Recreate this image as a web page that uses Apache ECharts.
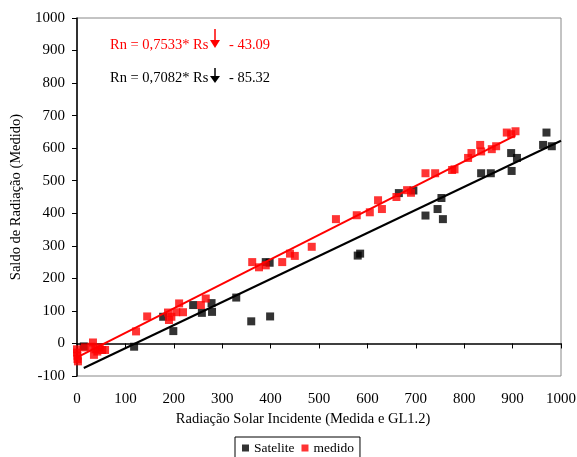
<!DOCTYPE html>
<html>
<head>
<meta charset="utf-8">
<script src="https://cdn.jsdelivr.net/npm/echarts@6/dist/echarts.min.js"></script>
<style>
  html, body { margin: 0; padding: 0; background: #fff; }
  #main { width: 577px; height: 457px; }
</style>
</head>
<body>
<div id="main"></div>
<script>
// pontos: [Rs, Rn]
const satelite = [
  [14, -9], [118, -10], [178, 82], [199, 38], [240, 118], [258, 94],
  [278, 124], [279, 97], [329, 141], [360, 68], [399, 83], [390, 250],
  [398, 248], [580, 270], [585, 276], [665, 462], [695, 470], [720, 393],
  [745, 413], [753, 447], [756, 382], [835, 523], [855, 523], [897, 585],
  [898, 530], [909, 570], [963, 610], [970, 648], [981, 606]
];
const medido = [
  [0, -18], [0, -28], [1, -38], [1, -48], [2, -55], [16, -12], [30, -10],
  [33, 3], [35, -35], [38, -18], [42, -25], [47, -12], [52, -20], [58, -20],
  [122, 37], [145, 83], [188, 95], [190, 72], [195, 82], [205, 96], [211, 123],
  [219, 96], [256, 118], [266, 138], [362, 250], [376, 234], [390, 240],
  [424, 250], [440, 276], [450, 269], [485, 297], [535, 382], [578, 394],
  [605, 403], [622, 440], [630, 413], [660, 450], [682, 471], [690, 463],
  [720, 523], [740, 523], [775, 533], [780, 535], [808, 570], [815, 585],
  [833, 610], [835, 590], [857, 597], [866, 606], [888, 648], [897, 643],
  [906, 652]
];
// regressoes: [inclinacao, intercepto, x inicial, x final]
const regMedido = [0.7533, -43.09, 0, 906];
const regSatelite = [0.7082, -85.32, 14, 1000];

function linha(r) {
  return [[r[2], r[0] * r[2] + r[1]], [r[3], r[0] * r[3] + r[1]]];
}

const serif = 'Liberation Serif';
const chart = echarts.init(document.getElementById('main'));

const option = {
  backgroundColor: '#fff',
  animation: false,
  textStyle: { fontFamily: serif, color: '#000' },
  grid: {
    left: 77, right: 16, top: 18, bottom: 81,
    containLabel: false, outerBoundsMode: 'none',
    show: true, borderColor: '#888', borderWidth: 1
  },
  legend: {
    data: ['Satelite', 'medido'],
    top: 437,
    left: 235,
    itemWidth: 7, itemHeight: 7, itemGap: 7,
    icon: 'rect',
    borderColor: '#000', borderWidth: 1, borderRadius: 0,
    padding: [4, 6, 6, 7],
    textStyle: { fontFamily: serif, fontSize: 13.5, color: '#000' }
  },
  xAxis: {
    type: 'value', min: 0, max: 1000, interval: 100,
    name: 'Radiação Solar Incidente (Medida e GL1.2)',
    nameLocation: 'middle', nameGap: 32,
    nameTextStyle: { fontFamily: serif, fontSize: 14.5, color: '#000', padding: [0, 32, 0, 0] },
    axisLine: { onZero: true, lineStyle: { color: '#000', width: 1.5 } },
    axisTick: { show: true, inside: false, length: 5, lineStyle: { color: '#000' } },
    axisLabel: { fontFamily: serif, fontSize: 15, color: '#000', margin: 16,
      formatter: v => String(v) },
    splitLine: { show: false }
  },
  yAxis: {
    type: 'value', min: -100, max: 1000, interval: 100,
    name: 'Saldo de Radiação (Medido)',
    nameLocation: 'middle', nameGap: 51, nameRotate: 90,
    nameTextStyle: { fontFamily: serif, fontSize: 14.5, color: '#000' },
    axisLine: { show: true, lineStyle: { color: '#000', width: 1.5 } },
    axisTick: { show: true, length: 5, lineStyle: { color: '#000' } },
    axisLabel: { fontFamily: serif, fontSize: 15, color: '#000', margin: 12,
      formatter: v => String(v) },
    splitLine: { show: false }
  },
  series: [
    {
      name: 'Satelite', type: 'scatter', data: satelite,
      symbol: 'rect', symbolSize: 8,
      itemStyle: { color: '#000' }
    },
    {
      name: 'medido', type: 'scatter', data: medido,
      symbol: 'rect', symbolSize: 8,
      itemStyle: { color: '#ff0000' }
    },
    {
      name: 'regSat', type: 'line', data: linha(regSatelite),
      symbol: 'none', lineStyle: { color: '#000', width: 2 }, z: 3
    },
    {
      name: 'regMed', type: 'line', data: linha(regMedido),
      symbol: 'none', lineStyle: { color: '#ff0000', width: 2 }, z: 3
    }
  ],
  graphic: [
    { type: 'text', left: 110, top: 38,
      style: { text: 'Rn = 0,7533* Rs', fill: '#ff0000', font: '14.5px "Liberation Serif"' } },
    { type: 'text', left: 229, top: 38,
      style: { text: '- 43.09', fill: '#ff0000', font: '14.5px "Liberation Serif"' } },
    { type: 'text', left: 110, top: 71,
      style: { text: 'Rn = 0,7082* Rs', fill: '#000', font: '14.5px "Liberation Serif"' } },
    { type: 'text', left: 229, top: 71,
      style: { text: '- 85.32', fill: '#000', font: '14.5px "Liberation Serif"' } },
    // setas pequenas sobre o "s"
    { type: 'line', shape: { x1: 215, y1: 29, x2: 215, y2: 41 }, style: { stroke: '#ff0000', lineWidth: 1.5 } },
    { type: 'polygon', shape: { points: [[210, 40], [220, 40], [215, 48]] }, style: { fill: '#ff0000' } },
    { type: 'line', shape: { x1: 215, y1: 68, x2: 215, y2: 77 }, style: { stroke: '#000', lineWidth: 1.5 } },
    { type: 'polygon', shape: { points: [[210, 76], [220, 76], [215, 83]] }, style: { fill: '#000' } }
  ]
};

chart.setOption(option);
</script>
</body>
</html>
